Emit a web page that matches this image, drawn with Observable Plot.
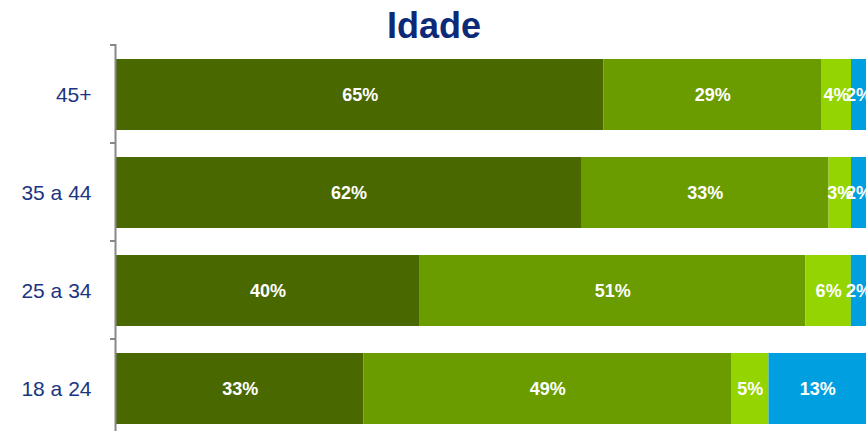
<!DOCTYPE html>
<html>
<head>
<meta charset="utf-8">
<script src="https://cdn.jsdelivr.net/npm/d3@7"></script>
<script src="https://cdn.jsdelivr.net/npm/@observablehq/plot@0.6"></script>
<style>
  html, body { margin: 0; padding: 0; background: #fff; }
  #wrap { position: relative; width: 868px; height: 431px; overflow: hidden; }
  #title { position: absolute; top: 2px; left: 0; width: 868px; text-align: center;
           font-family: "Liberation Sans", Arial, sans-serif; font-weight: bold; font-size: 36px;
           color: #0d2a78; line-height: 48px; }
</style>
</head>
<body>
<div id="wrap"><div id="chart"></div><div id="title">Idade</div></div>
<script>
const categories = ["45+", "35 a 44", "25 a 34", "18 a 24"];
const seriesNames = ["s1", "s2", "s3", "s4"];
const seriesColors = ["#4a6800", "#6a9c00", "#94d400", "#009fe0"];
const s1 = [65, 62, 40, 33];
const s2 = [29, 33, 51, 49];
const s3 = [4, 3, 6, 5];
const s4 = [2, 2, 2, 13];

const seriesValues = [s1, s2, s3, s4];
const data = [];
categories.forEach((c, i) => {
  seriesNames.forEach((s, j) => {
    data.push({ cat: c, series: s, value: seriesValues[j][i] });
  });
});

const chart = Plot.plot({
  width: 868,
  height: 431,
  marginTop: 44,
  marginBottom: 0,
  marginLeft: 116,
  marginRight: 2,
  style: { fontFamily: "'Liberation Sans', Arial, sans-serif", background: "#fff" },
  x: { domain: [0, 1], axis: null },
  y: { domain: categories, range: [45.5, 437.5], paddingInner: 0.275, paddingOuter: 0.1375, label: null },
  color: { domain: seriesNames, range: seriesColors },
  marks: [
    Plot.barX(data, Plot.stackX({ offset: "normalize", order: null }, {
      x: "value", y: "cat", fill: "series"
    })),
    Plot.textX(data, Plot.stackX({ offset: "normalize", order: null }, {
      x: "value", y: "cat", text: d => d.value + "%", fill: "#fff",
      fontWeight: "bold", fontSize: 18
    })),
    Plot.axisY({ tickSize: 0, tickPadding: 25, fontSize: 21, color: "#1a3580", label: null }),
    Plot.axisY({ tickSize: 6, text: null, dy: -50, stroke: "#888", strokeWidth: 2, label: null }),
    Plot.ruleX([0], { stroke: "#888", strokeWidth: 2, dx: -1 })
  ]
});
document.getElementById("chart").appendChild(chart);
</script>
</body>
</html>
